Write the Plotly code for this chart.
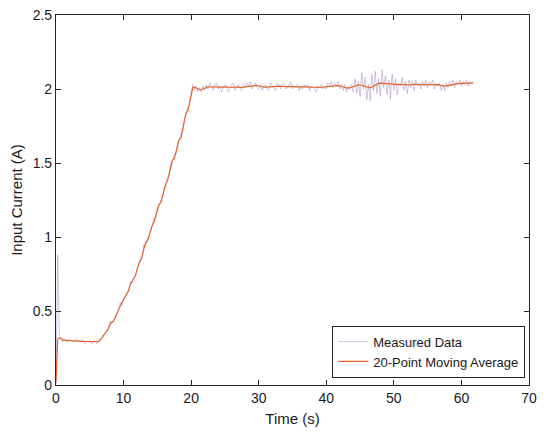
import numpy as np
import plotly.graph_objects as go

# Sampling interval of the logged current (s)
SAMPLE_PERIOD = 0.25

# Measured input current (A), one value per sample
measured_current = [
    0.00, 0.88, 0.34, 0.32, 0.29, 0.31, 0.30, 0.29, 0.31, 0.30,
    0.29, 0.30, 0.31, 0.29, 0.30, 0.29, 0.30, 0.28, 0.30, 0.29,
    0.30, 0.28, 0.29, 0.30, 0.28, 0.29, 0.31, 0.32, 0.34, 0.35,
    0.37, 0.38, 0.43, 0.42, 0.44, 0.45, 0.49, 0.50, 0.56, 0.54,
    0.59, 0.60, 0.62, 0.63, 0.70, 0.69, 0.72, 0.73, 0.79, 0.81,
    0.86, 0.86, 0.95, 0.94, 0.99, 0.99, 1.06, 1.07, 1.13, 1.13,
    1.20, 1.21, 1.25, 1.26, 1.34, 1.35, 1.40, 1.42, 1.51, 1.51,
    1.56, 1.56, 1.64, 1.65, 1.70, 1.71, 1.80, 1.83, 1.88, 1.89,
    1.98, 2.03, 1.99, 2.02, 1.98, 2.01, 1.98, 2.02, 1.99, 2.03,
    2.00, 2.04, 2.02, 1.99, 2.03, 2.04, 2.00, 2.02, 1.98, 2.01,
    2.03, 2.02, 1.98, 2.00, 2.03, 2.04, 1.99, 2.01, 2.03, 2.00,
    1.99, 2.03, 2.01, 2.04, 2.02, 2.05, 2.00, 2.02, 2.04, 2.01,
    2.00, 2.03, 1.99, 2.02, 2.03, 2.00, 1.99, 2.04, 2.02, 2.01,
    1.99, 2.04, 2.02, 2.00, 2.03, 2.04, 2.00, 2.01, 2.03, 2.05,
    2.00, 2.02, 2.01, 2.03, 1.99, 2.02, 2.00, 2.03, 2.01, 2.03,
    1.99, 2.02, 2.01, 2.00, 1.98, 2.02, 2.01, 2.03, 2.00, 2.02,
    2.00, 2.04, 2.02, 2.05, 2.01, 2.04, 2.02, 2.05, 2.00, 2.03,
    1.99, 2.03, 1.98, 2.02, 2.00, 2.03, 1.98, 2.07, 1.97, 2.05,
    1.95, 2.11, 2.00, 2.08, 1.93, 2.03, 1.92, 2.10, 1.99, 2.12,
    1.97, 2.07, 1.95, 2.13, 2.01, 2.09, 1.96, 2.06, 1.93, 2.10,
    1.99, 2.07, 1.96, 2.04, 2.02, 2.08, 1.99, 2.05, 1.97, 2.06,
    2.01, 2.05, 1.99, 2.06, 2.02, 2.04, 2.00, 2.05, 2.02, 2.06,
    2.01, 2.05, 2.03, 2.06, 2.00, 2.04, 2.02, 2.04, 1.99, 2.03,
    1.99, 2.04, 2.01, 2.05, 2.02, 2.06, 2.01, 2.05, 2.03, 2.06,
    2.02, 2.05, 2.03, 2.06, 2.02, 2.05, 2.04, 2.05,
]

# 20-point moving average of the input current (A), same sample grid
moving_average = [
    0.02, 0.31, 0.32, 0.31, 0.305, 0.305, 0.30, 0.30, 0.30, 0.30,
    0.30, 0.298, 0.298, 0.297, 0.296, 0.295, 0.295, 0.294, 0.294, 0.293,
    0.293, 0.292, 0.292, 0.292, 0.292, 0.293, 0.30, 0.315, 0.335, 0.35,
    0.36, 0.38, 0.41, 0.425, 0.43, 0.45, 0.48, 0.51, 0.53, 0.55,
    0.58, 0.60, 0.61, 0.64, 0.68, 0.70, 0.71, 0.74, 0.78, 0.82,
    0.84, 0.87, 0.92, 0.96, 0.97, 1.00, 1.04, 1.08, 1.10, 1.14,
    1.19, 1.22, 1.23, 1.27, 1.32, 1.36, 1.38, 1.43, 1.49, 1.52,
    1.53, 1.57, 1.62, 1.66, 1.67, 1.72, 1.78, 1.84, 1.85, 1.90,
    1.97, 2.01, 2.012, 2.005, 2.00, 1.995, 1.995, 2.00, 2.008, 2.012,
    2.015, 2.014, 2.012, 2.013, 2.015, 2.014, 2.012, 2.010, 2.011, 2.013,
    2.014, 2.012, 2.010, 2.009, 2.010, 2.012, 2.014, 2.015, 2.013, 2.011,
    2.010, 2.011, 2.013, 2.016, 2.018, 2.020, 2.022, 2.024, 2.025, 2.024,
    2.020, 2.016, 2.013, 2.012, 2.013, 2.014, 2.015, 2.016, 2.016, 2.015,
    2.014, 2.016, 2.018, 2.019, 2.018, 2.016, 2.015, 2.016, 2.018, 2.019,
    2.018, 2.016, 2.014, 2.013, 2.012, 2.012, 2.013, 2.014, 2.014, 2.013,
    2.012, 2.011, 2.010, 2.008, 2.007, 2.008, 2.010, 2.012, 2.013, 2.014,
    2.016, 2.018, 2.020, 2.022, 2.023, 2.024, 2.024, 2.023, 2.020, 2.016,
    2.012, 2.009, 2.007, 2.006, 2.008, 2.012, 2.017, 2.022, 2.026, 2.028,
    2.027, 2.024, 2.020, 2.015, 2.010, 2.007, 2.008, 2.013, 2.020, 2.028,
    2.034, 2.038, 2.040, 2.039, 2.036, 2.034, 2.033, 2.034, 2.035, 2.034,
    2.032, 2.030, 2.029, 2.030, 2.032, 2.033, 2.032, 2.030, 2.028, 2.027,
    2.028, 2.030, 2.032, 2.033, 2.032, 2.030, 2.029, 2.030, 2.032, 2.033,
    2.032, 2.030, 2.028, 2.027, 2.028, 2.030, 2.030, 2.027, 2.024, 2.021,
    2.020, 2.021, 2.024, 2.028, 2.031, 2.033, 2.034, 2.035, 2.036, 2.037,
    2.038, 2.039, 2.040, 2.040, 2.041, 2.040, 2.041, 2.042,
]

x_ticks = [0, 10, 20, 30, 40, 50, 60, 70]
y_ticks = [0, 0.5, 1, 1.5, 2, 2.5]
y_tick_labels = ["0", "0.5", "1", "1.5", "2", "2.5"]

time_s = np.arange(len(measured_current)) * SAMPLE_PERIOD

FONT = "Liberation Sans, Arial, Helvetica, sans-serif"
INK = "#1a1a1a"

fig = go.Figure()
fig.add_trace(go.Scatter(
    x=time_s, y=measured_current, mode="lines", name="Measured Data",
    line=dict(color="rgba(140,105,185,0.5)", width=0.8),
))
fig.add_trace(go.Scatter(
    x=time_s, y=moving_average, mode="lines", name="20-Point Moving Average",
    line=dict(color="#E4652C", width=1.2),
))

axis_common = dict(
    showline=True, linecolor="#262626", linewidth=1.2, mirror="ticks",
    ticks="inside", ticklen=5, tickwidth=1.2, tickcolor="#262626",
    showgrid=False, zeroline=False,
    tickfont=dict(family=FONT, size=14, color=INK),
)

fig.update_xaxes(
    range=[0, 70], tickvals=x_ticks,
    title=dict(text="Time (s)", font=dict(family=FONT, size=15, color=INK), standoff=8),
    **axis_common,
)
fig.update_yaxes(
    range=[0, 2.5], tickvals=y_ticks, ticktext=y_tick_labels,
    title=dict(text="Input Current (A)", font=dict(family=FONT, size=15, color=INK), standoff=6),
    **axis_common,
)

fig.update_layout(
    width=544, height=434,
    margin=dict(l=56, r=7, t=13, b=49),
    paper_bgcolor="white", plot_bgcolor="white",
    showlegend=True,
    legend=dict(
        x=0.992, y=0.02, xanchor="right", yanchor="bottom",
        bgcolor="white", bordercolor="#262626", borderwidth=1,
        font=dict(family=FONT, size=13, color=INK),
        tracegroupgap=0, itemwidth=30,
    ),
)

fig.write_html("out.html")
